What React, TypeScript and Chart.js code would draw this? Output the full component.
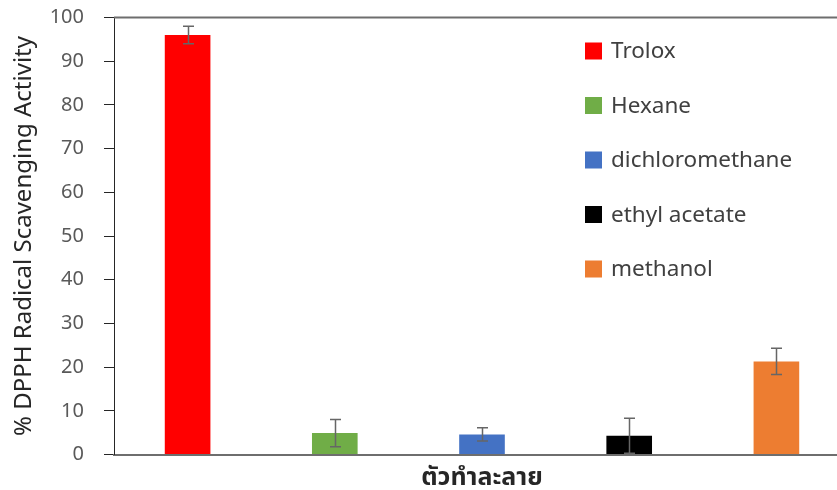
import React, { useEffect, useRef } from 'react';
import { Chart, registerables } from 'chart.js';

Chart.register(...registerables);

const categories = ['ตัวทำละลาย'];
const seriesNames = ['Trolox', 'Hexane', 'dichloromethane', 'ethyl acetate', 'methanol'];
const seriesValues = [96.0, 4.9, 4.6, 4.3, 21.3];
const seriesErrors = [2.0, 3.1, 1.5, 4.0, 3.0];
const seriesColors = ['#FF0000', '#70AD47', '#4472C4', '#000000', '#ED7D31'];
const yMin = 0;
const yMax = 100;
const yStep = 10;
const xTitle = 'ตัวทำละลาย';
const yTitle = '% DPPH Radical Scavenging Activity';

const FONT = "'Noto Sans', 'Noto Sans Thai', 'Open Sans', sans-serif";

const errorBarPlugin = {
  id: 'errorBars',
  afterDatasetsDraw(chart: any) {
    const ctx = chart.ctx;
    const yScale = chart.scales.y;
    ctx.save();
    ctx.strokeStyle = '#666666';
    ctx.lineWidth = 1.5;
    chart.data.datasets.forEach((ds: any, i: number) => {
      const meta = chart.getDatasetMeta(i);
      meta.data.forEach((bar: any, j: number) => {
        const v = ds.data[j];
        const e = ds.errors[j];
        const x = Math.round(bar.x) + 0.5;
        const yt = yScale.getPixelForValue(v + e);
        const yb = yScale.getPixelForValue(Math.max(v - e, 0));
        const cap = 5.5;
        ctx.beginPath();
        ctx.moveTo(x, yt);
        ctx.lineTo(x, yb);
        ctx.moveTo(x - cap, yt);
        ctx.lineTo(x + cap, yt);
        ctx.moveTo(x - cap, yb);
        ctx.lineTo(x + cap, yb);
        ctx.stroke();
      });
    });
    ctx.restore();
  },
};

const frameAndLegendPlugin = {
  id: 'frameLegend',
  afterDraw(chart: any) {
    const ctx = chart.ctx;
    const area = chart.chartArea;
    ctx.save();
    // top border line
    ctx.strokeStyle = '#6e6e6e';
    ctx.lineWidth = 2;
    ctx.beginPath();
    ctx.moveTo(area.left, area.top);
    ctx.lineTo(area.right, area.top);
    ctx.stroke();
    // legend
    const lx = 585;
    const ly0 = 51;
    const gap = 54.5;
    const box = 17;
    ctx.font = `22.5px ${FONT}`;
    ctx.textBaseline = 'middle';
    ctx.textAlign = 'left';
    chart.data.datasets.forEach((ds: any, i: number) => {
      const cy = ly0 + i * gap;
      ctx.fillStyle = ds.backgroundColor;
      ctx.fillRect(lx, cy - box / 2, box, box);
      ctx.fillStyle = '#404040';
      ctx.fillText(ds.label, lx + 26, cy + 1);
    });
    ctx.restore();
  },
};

export default function App() {
  const ref = useRef<HTMLCanvasElement | null>(null);

  useEffect(() => {
    if (!ref.current) return;
    const datasets = seriesNames.map((name, i) => ({
      label: name,
      data: [seriesValues[i]],
      errors: [seriesErrors[i]],
      backgroundColor: seriesColors[i],
      borderWidth: 0,
      categoryPercentage: 1.0,
      barPercentage: 0.31,
    }));
    const chart = new Chart(ref.current, {
      type: 'bar',
      data: { labels: categories, datasets: datasets as any },
      plugins: [errorBarPlugin, frameAndLegendPlugin],
      options: {
        responsive: false,
        animation: false,
        layout: { padding: { left: 0, right: 30, top: 17.5, bottom: 0 } },
        plugins: { legend: { display: false }, tooltip: { enabled: false } },
        scales: {
          x: {
            grid: { display: false },
            border: { display: true, color: '#6e6e6e', width: 2 },
            ticks: { display: false },
            title: {
              display: true,
              text: xTitle,
              color: '#262626',
              font: { family: FONT, size: 25, weight: 'bold', lineHeight: 1.0 },
              padding: { top: 0, bottom: 0 },
            },
            afterFit(scale: any) {
              scale.height = 35.5;
              scale.paddingLeft = 0;
              scale.paddingRight = 0;
            },
          },
          y: {
            min: yMin,
            max: yMax,
            ticks: {
              stepSize: yStep,
              color: '#595959',
              font: { family: FONT, size: 20 },
              padding: 20,
            },
            grid: {
              drawOnChartArea: false,
              drawTicks: true,
              tickLength: 10,
              color: '#262626',
            },
            border: { display: true, color: '#262626', width: 1 },
            title: {
              display: true,
              text: yTitle,
              color: '#262626',
              font: { family: FONT, size: 24, lineHeight: 1.2 },
              padding: { top: 10, bottom: 0 },
            },
            afterFit(scale: any) {
              scale.width = 114;
              scale.paddingTop = 0;
              scale.paddingBottom = 0;
            },
          },
        },
      } as any,
    });
    return () => chart.destroy();
  }, []);

  return (
    <div
      style={{
        position: 'fixed',
        left: 0,
        top: 0,
        width: 837,
        height: 490,
        overflow: 'hidden',
        background: '#ffffff',
      }}
    >
      <canvas ref={ref} width={880} height={490} style={{ display: 'block' }} />
    </div>
  );
}
